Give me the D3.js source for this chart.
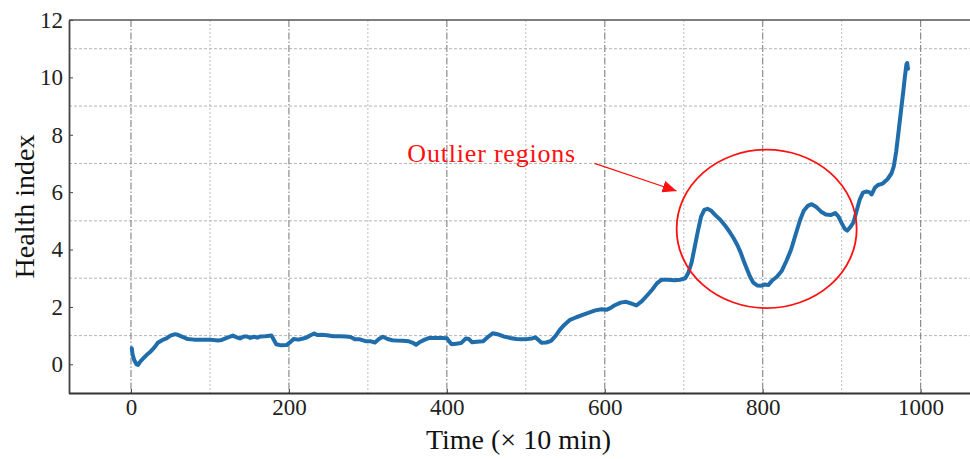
<!DOCTYPE html>
<html>
<head>
<meta charset="utf-8">
<script src="https://cdn.jsdelivr.net/npm/d3@7"></script>
<style>
  html, body { margin: 0; padding: 0; background: #fff; }
  svg { display: block; }
  .tick text { font-family: "Liberation Serif", "Times New Roman", serif; fill: #222; }
</style>
</head>
<body>
<svg id="chart" width="970" height="459"></svg>
<script>
// Time stamps (units of 10 minutes)
const times = [1, 2, 4, 7, 9, 12, 16, 20, 25, 30, 34, 40, 45, 50, 56, 60, 66, 72, 80, 90,
  100, 110, 115, 122, 129, 134, 138, 143, 147, 151, 156, 160, 164, 170, 178, 181, 184, 190, 197, 202,
  206, 212, 218, 222, 228, 232, 236, 242, 248, 256, 265, 272, 278, 284, 290, 298, 304, 309, 314, 319,
  325, 331, 336, 344, 352, 357, 361, 366, 372, 378, 386, 394, 400, 403, 406, 412, 418, 424, 428, 432,
  438, 446, 452, 458, 464, 472, 480, 488, 495, 502, 508, 512, 516, 520, 526, 532, 538, 543, 549, 556,
  564, 572, 580, 588, 596, 602, 607, 612, 620, 627, 633, 640, 647, 653, 660, 666, 672, 680, 688, 696,
  702, 706, 710, 714, 718, 722, 726, 730, 735, 740, 746, 752, 758, 763, 768, 772, 776, 780, 784, 788,
  793, 798, 803, 807, 812, 818, 824, 830, 836, 842, 847, 852, 857, 862, 868, 874, 880, 886, 892, 896,
  900, 904, 907, 911, 915, 919, 923, 927, 931, 935, 938, 942, 946, 952, 958, 963, 966, 969, 972, 975,
  978, 980, 982, 983, 984];

// Health index at each time stamp
const healthIndex = [0.56, 0.35, 0.15, 0.0, -0.02, 0.1, 0.22, 0.33, 0.45, 0.6, 0.75, 0.85, 0.9, 1.0, 1.05, 1.02, 0.95, 0.88, 0.86, 0.86,
  0.86, 0.83, 0.85, 0.93, 1.0, 0.94, 0.9, 0.97, 0.97, 0.92, 0.96, 0.93, 0.97, 0.98, 1.0, 0.85, 0.7, 0.66, 0.67, 0.78,
  0.88, 0.86, 0.9, 0.93, 1.02, 1.07, 1.02, 1.03, 1.01, 0.98, 0.98, 0.97, 0.95, 0.87, 0.87, 0.8, 0.8, 0.76, 0.88, 0.96,
  0.88, 0.84, 0.83, 0.82, 0.8, 0.75, 0.68, 0.78, 0.86, 0.92, 0.92, 0.92, 0.91, 0.8, 0.7, 0.72, 0.74, 0.9, 0.88, 0.77,
  0.79, 0.8, 0.95, 1.08, 1.05, 0.97, 0.92, 0.88, 0.87, 0.88, 0.9, 0.94, 0.85, 0.75, 0.76, 0.82, 1.0, 1.2, 1.38, 1.55,
  1.64, 1.72, 1.8, 1.88, 1.92, 1.9, 1.96, 2.05, 2.15, 2.18, 2.12, 2.05, 2.2, 2.38, 2.6, 2.82, 2.95, 2.95, 2.93, 2.95,
  3.0, 3.2, 3.55, 4.1, 4.65, 5.15, 5.38, 5.42, 5.35, 5.2, 5.05, 4.85, 4.62, 4.4, 4.15, 3.9, 3.6, 3.32, 3.05, 2.85,
  2.75, 2.74, 2.78, 2.76, 2.92, 3.05, 3.25, 3.6, 4.0, 4.55, 5.0, 5.35, 5.52, 5.58, 5.48, 5.32, 5.22, 5.2, 5.27, 5.15,
  4.92, 4.72, 4.66, 4.78, 4.95, 5.35, 5.75, 5.98, 6.02, 6.0, 5.92, 6.15, 6.25, 6.3, 6.45, 6.65, 6.9, 7.4, 8.1, 8.8,
  9.5, 10.0, 10.45, 10.5, 10.3];

// Axis ticks and grid positions
const xTicks = [0, 200, 400, 600, 800, 1000];
const xMinorGrid = [100, 300, 500, 700, 900];
const yTicks = [0, 2, 4, 6, 8, 10, 12];
const yGrid = [1, 3, 5, 7, 9, 11];

// Annotation: outlier region (centre and radii in data units)
const outlierLabel = "Outlier regions";
const outlierCentre = [805, 4.72];
const outlierRadii = [114, 2.76];

const svg = d3.select("#chart");
const plotLeft = 69, plotRight = 968, plotTop = 20, plotBottom = 393;

const x = d3.scaleLinear().domain([-78.5, 1060]).range([plotLeft, plotRight]);
const y = d3.scaleLinear().domain([-1, 12]).range([plotBottom, plotTop]);

const grid = svg.append("g");
// horizontal dotted grid at odd values
grid.selectAll("line.h").data(yGrid).join("line")
  .attr("class", "h")
  .attr("x1", plotLeft).attr("x2", 970)
  .attr("y1", d => y(d)).attr("y2", d => y(d))
  .attr("stroke", "#b4b4b4").attr("stroke-width", 1)
  .attr("stroke-dasharray", "3,2");
// vertical dash-dot grid at labelled ticks
grid.selectAll("line.vmaj").data(xTicks).join("line")
  .attr("class", "vmaj")
  .attr("x1", d => x(d)).attr("x2", d => x(d))
  .attr("y1", plotTop).attr("y2", plotBottom)
  .attr("stroke", "#8c8c8c").attr("stroke-width", 1.2)
  .attr("stroke-dasharray", "7,2,1.5,2");
// vertical dotted grid in between
grid.selectAll("line.vmin").data(xMinorGrid).join("line")
  .attr("class", "vmin")
  .attr("x1", d => x(d)).attr("x2", d => x(d))
  .attr("y1", plotTop).attr("y2", plotBottom)
  .attr("stroke", "#bcbcbc").attr("stroke-width", 1)
  .attr("stroke-dasharray", "2,2");

// frame
svg.append("line").attr("x1", plotLeft).attr("x2", 970).attr("y1", plotTop).attr("y2", plotTop)
  .attr("stroke", "#555").attr("stroke-width", 1.5);

const yAxis = svg.append("g").attr("transform", `translate(${plotLeft},0)`)
  .call(d3.axisLeft(y).tickValues(yTicks).tickFormat(d3.format("d"))
    .tickSize(-4).tickSizeOuter(0).tickPadding(6));
yAxis.select(".domain").attr("stroke", "#444").attr("stroke-width", 1.8);
yAxis.selectAll(".tick line").attr("stroke", "#444");
yAxis.selectAll(".tick text").attr("font-size", 23);

const xAxis = svg.append("g").attr("transform", `translate(0,${plotBottom})`)
  .call(d3.axisBottom(x).tickValues(xTicks).tickFormat(d3.format("d"))
    .tickSize(-4).tickSizeOuter(0).tickPadding(6));
xAxis.select(".domain").attr("stroke", "#333").attr("stroke-width", 2).attr("d", `M${plotLeft},0.5H970`);
xAxis.selectAll(".tick line").attr("stroke", "#444");
xAxis.selectAll(".tick text").attr("font-size", 23);

// axis titles
svg.append("text")
  .attr("x", (plotLeft + plotRight) / 2).attr("y", 449)
  .attr("text-anchor", "middle")
  .attr("font-family", "Liberation Serif, Times New Roman, serif")
  .attr("font-size", 28).attr("fill", "#111")
  .text("Time (× 10 min)");
svg.append("text")
  .attr("transform", `translate(34,${(plotTop + plotBottom) / 2}) rotate(-90)`)
  .attr("text-anchor", "middle")
  .attr("font-family", "Liberation Serif, Times New Roman, serif")
  .attr("font-size", 28).attr("fill", "#111")
  .text("Health index");

// health index curve
const series = times.map((t, i) => [t, healthIndex[i]]);
svg.append("path")
  .datum(series)
  .attr("fill", "none")
  .attr("stroke", "#1f6eab")
  .attr("stroke-width", 4)
  .attr("stroke-linejoin", "round")
  .attr("stroke-linecap", "round")
  .attr("d", d3.line().x(d => x(d[0])).y(d => y(d[1])));

// outlier annotation
const cx = x(outlierCentre[0]), cy = y(outlierCentre[1]);
const rx = x(outlierCentre[0] + outlierRadii[0]) - cx;
const ry = cy - y(outlierCentre[1] + outlierRadii[1]);
svg.append("ellipse")
  .attr("cx", cx).attr("cy", cy).attr("rx", rx).attr("ry", ry)
  .attr("fill", "none").attr("stroke", "#ff1010").attr("stroke-width", 1.8);

svg.append("defs").append("marker")
  .attr("id", "arrowhead")
  .attr("viewBox", "0 0 14 12")
  .attr("refX", 14).attr("refY", 6)
  .attr("markerWidth", 14).attr("markerHeight", 12)
  .attr("markerUnits", "userSpaceOnUse")
  .attr("orient", "auto")
  .append("path").attr("d", "M0,0L14,6L0,12Z").attr("fill", "#ff1010");

// arrow from the label towards the ellipse (points in data units)
const arrowFrom = [587, 7.0];
const arrowTo = [691, 6.04];
svg.append("line")
  .attr("x1", x(arrowFrom[0])).attr("y1", y(arrowFrom[1]))
  .attr("x2", x(arrowTo[0])).attr("y2", y(arrowTo[1]))
  .attr("stroke", "#ff1010").attr("stroke-width", 1.3)
  .attr("marker-end", "url(#arrowhead)");

svg.append("text")
  .attr("x", x(350)).attr("y", y(7.05))
  .attr("font-family", "Liberation Serif, Times New Roman, serif")
  .attr("font-size", 26).attr("letter-spacing", 0.8).attr("fill", "#ff1010")
  .text(outlierLabel);
</script>
</body>
</html>
